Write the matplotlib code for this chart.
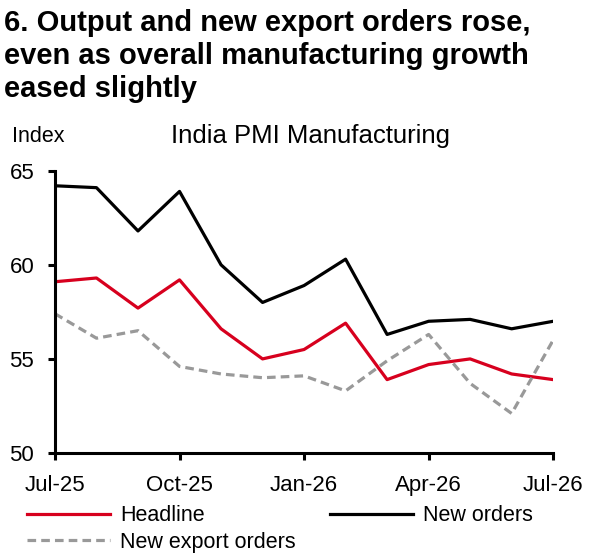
import matplotlib
matplotlib.use("Agg")
import matplotlib.pyplot as plt

plt.rcParams["font.family"] = ["Liberation Sans", "DejaVu Sans"]

months = ["Jul-25", "Aug-25", "Sep-25", "Oct-25", "Nov-25", "Dec-25", "Jan-26",
          "Feb-26", "Mar-26", "Apr-26", "May-26", "Jun-26", "Jul-26"]
headline = [59.1, 59.3, 57.7, 59.2, 56.6, 55.0, 55.5, 56.9, 53.9, 54.7, 55.0, 54.2, 53.9]
new_orders = [64.2, 64.1, 61.8, 63.9, 60.0, 58.0, 58.9, 60.3, 56.3, 57.0, 57.1, 56.6, 57.0]
export_orders = [57.4, 56.1, 56.5, 54.6, 54.2, 54.0, 54.1, 53.3, 54.9, 56.3, 53.7, 52.1, 56.0]
tick_labels = ["Jul-25", "Oct-25", "Jan-26", "Apr-26", "Jul-26"]

RED = "#d7001e"
GREY = "#999999"

fig = plt.figure(figsize=(5.91, 5.57), dpi=100)
ax = fig.add_axes([0.093, 0.1867, 0.843, 0.5068])

x = list(range(len(months)))
l_head, = ax.plot(x, headline, color=RED, linewidth=2.3, label="Headline")
l_new, = ax.plot(x, new_orders, color="black", linewidth=2.3, label="New orders")
l_exp, = ax.plot(x, export_orders, color=GREY, linewidth=2.3, dashes=(2.7, 1.6),
                 label="New export orders")

ax.set_xlim(0, len(months) - 1)
ax.set_ylim(50, 65)
ax.set_yticks([50, 55, 60, 65])
ax.set_xticks([months.index(m) for m in tick_labels])
ax.set_xticklabels(tick_labels)
for side in ("top", "right"):
    ax.spines[side].set_visible(False)
for side in ("left", "bottom"):
    ax.spines[side].set_linewidth(2.2)
ax.tick_params(axis="both", labelsize=16, width=2.2, length=5, direction="out", pad=10)
ax.tick_params(axis="x", pad=11)

fig.text(0.006, 0.984, "6. Output and new export orders rose,\neven as overall manufacturing growth\neased slightly",
         fontsize=21, fontweight="bold", ha="left", va="top", linespacing=1.24)
fig.text(0.021, 0.755, "Index", fontsize=15.5, ha="left", va="center")
fig.text(0.526, 0.755, "India PMI Manufacturing", fontsize=18.5, ha="center", va="center")

fig.legend([l_head, l_exp, l_new], ["Headline", "New export orders", "New orders"],
           ncol=2, loc="upper left", bbox_to_anchor=(0.0457, 0.093), frameon=False,
           fontsize=15.5, handlelength=3.86, handletextpad=0.45, columnspacing=1.6,
           labelspacing=0.25, borderpad=0, borderaxespad=0)

fig.savefig("out.png", dpi=100)
